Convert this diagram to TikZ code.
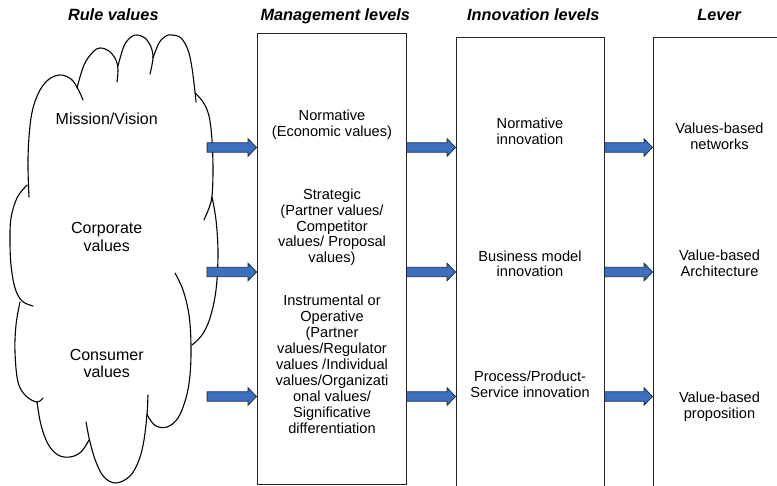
\documentclass[tikz,border=0pt]{standalone}
\usepackage{fontspec}
\setmainfont{Liberation Sans}
\usetikzlibrary{calc}
\definecolor{arrowblue}{RGB}{58,112,190}
\definecolor{arrowedge}{RGB}{25,40,70}
\tikzset{
  box/.style={draw=black!85, line width=0.9pt, inner sep=0pt},
  hdr/.style={font=\fontsize{16.3}{19}\selectfont\bfseries\itshape, anchor=base, inner sep=0pt},
  txt/.style={font=\fontsize{14.6}{15.9}\selectfont, align=center, inner sep=0pt},
  cloudtxt/.style={font=\fontsize{16}{17.3}\selectfont, align=center, inner sep=0pt},
  lobe/.style={draw=black, line width=1.1pt, line cap=round},
  blk/.style={fill=arrowblue, draw=arrowedge, line width=0.8pt, line join=miter},
}
\newcommand\blkarrow[2]{%
  \path[blk] let \p1=(#1), \p2=(#2) in
  (\x1,\y1+4.7pt) -- (\x2-8.5pt,\y1+4.7pt) -- (\x2-8.5pt,\y1+8.7pt) -- (\x2,\y1)
  -- (\x2-8.5pt,\y1-8.7pt) -- (\x2-8.5pt,\y1-4.7pt) -- (\x1,\y1-4.7pt) -- cycle;}
\begin{document}
\begin{tikzpicture}[x=1pt,y=-1pt]
\useasboundingbox (0,0) rectangle (777,486);
\clip (0,0) rectangle (777,486);
\fill[white] (0,0) rectangle (777,486);

% headers
\node[hdr] (h1) at (113.3,20.7) {Rule values};
\node[hdr] (h2) at (335.3,20.7) {Management levels};
\node[hdr] (h3) at (533.3,20.7) {Innovation levels};
\node[hdr] (h4) at (719.2,20.7) {Lever};

% cloud
\draw[lobe] plot[smooth, tension=0.6] coordinates {(29,197) (28,158) (31,118) (38,94) (48,80) (60,75) (71,79) (78,89) (83,100)};
\draw[lobe] plot[smooth, tension=0.6] coordinates {(77,88) (84,65) (93,52) (100,48) (109,51) (116,60) (118,70) (117,82)};
\draw[lobe] plot[smooth, tension=0.6] coordinates {(118,66) (124,46) (131,37) (137,35) (145,38) (151,47) (153,58) (150,74)};
\draw[lobe] plot[smooth, tension=0.6] coordinates {(153,58) (159,43) (166,36) (172,35) (181,38) (188,50) (192,68) (195,92) (196,102)};
\draw[lobe] plot[smooth, tension=0.6] coordinates {(195,93) (203,102) (209,116) (212,140) (213,170) (212,196) (209,208) (204,220)};
\draw[lobe] plot[smooth, tension=0.6] coordinates {(212,197) (216,220) (218,253) (216,290) (210,318) (202,335) (192,345)};
\draw[lobe] plot[smooth, tension=0.6] coordinates {(175,273) (183,290) (189,315) (191,345) (190,375) (186,398) (178,418) (167,427) (156,426) (149,418) (147,414)};
\draw[lobe] plot[smooth, tension=0.6] coordinates {(148,395) (147,414) (144,440) (139,460) (130,476) (116,483) (104,477) (96,462) (90,442) (86,422)};
\draw[lobe] plot[smooth, tension=0.6] coordinates {(89,440) (81,452) (70,457) (58,455) (48,444) (41,425) (37,402)};
\draw[lobe] plot[smooth, tension=0.6] coordinates {(20,302) (16,325) (15,352) (18,382) (26,396) (37,402) (43,398)};
\draw[lobe] plot[smooth, tension=0.6] coordinates {(27,185) (17,198) (11,218) (10,240) (11,265) (15,288) (22,301) (33,306)};

\node[cloudtxt] (c1) at (106.7,118.3) {Mission/Vision};
\node[cloudtxt] (c2) at (106.7,237) {Corporate\\values};
\node[cloudtxt] (c3) at (106.7,363.7) {Consumer\\values};

% boxes
\node[box, minimum width=149pt, minimum height=451pt] (mg) at (331.5,258.5) {};
\node[box, minimum width=148pt, minimum height=459pt] (in) at (530,266.5) {};
\node[box, minimum width=148pt, minimum height=459pt] (lv) at (727,266.5) {};

% texts
\node[txt] (m1t) at (332,124.7) {Normative\\(Economic values)};
\node[txt] (m2t) at (332,227.3) {Strategic\\(Partner values/\\Competitor\\values/ Proposal\\values)};
\node[txt] (m3t) at (332,364.3) {Instrumental or\\Operative\\(Partner\\values/Regulator\\values /Individual\\values/Organizati\\onal values/\\Significative\\differentiation};

\node[txt] (i1t) at (530,131.2) {Normative\\innovation};
\node[txt] (i2t) at (530,263.8) {Business model\\innovation};
\node[txt] (i3t) at (530,384.5) {Process/Product-\\Service innovation};

\node[txt] (l1t) at (719.5,136.3) {Values-based\\networks};
\node[txt] (l2t) at (719.5,263.3) {Value-based\\Architecture};
\node[txt] (l3t) at (719.5,406.3) {Value-based\\proposition};

% arrows
\foreach \r/\yy in {1/147.5, 2/272, 3/396.5} {
  \coordinate (s\r) at (207,\yy);
  \coordinate (ma\r) at (mg.west |- s\r);
  \coordinate (mb\r) at (mg.east |- s\r);
  \coordinate (ia\r) at (in.west |- s\r);
  \coordinate (ib\r) at (in.east |- s\r);
  \coordinate (la\r) at (lv.west |- s\r);
  \blkarrow{s\r}{ma\r}
  \blkarrow{mb\r}{ia\r}
  \blkarrow{ib\r}{la\r}
}
\end{tikzpicture}
\end{document}
